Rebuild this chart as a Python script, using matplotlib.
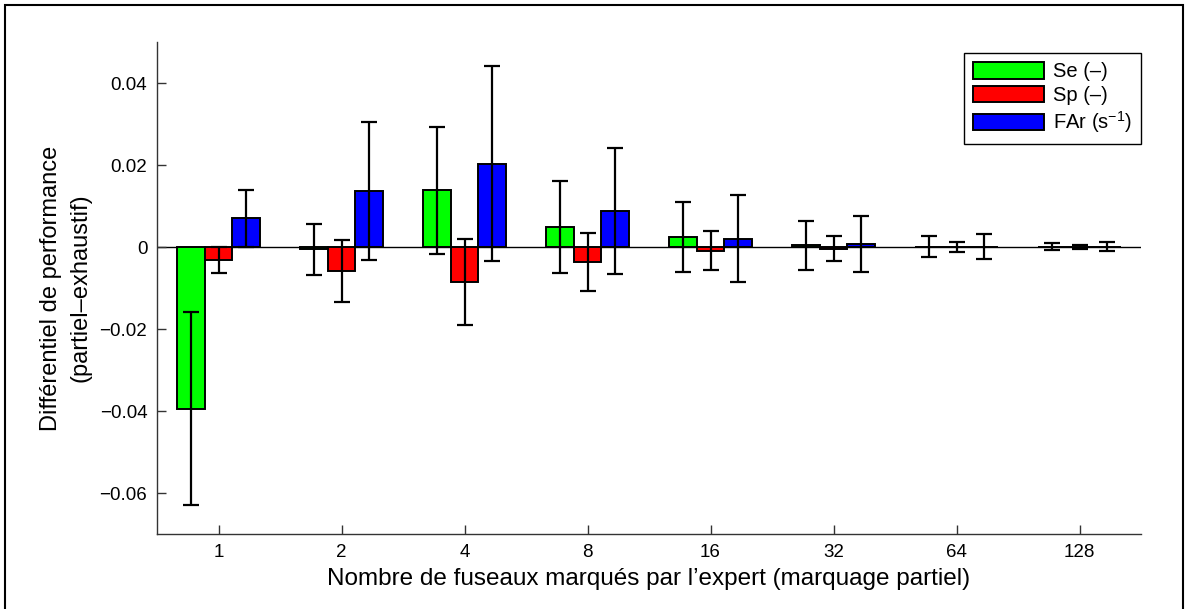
import numpy as np
import matplotlib.pyplot as plt
from matplotlib.patches import Rectangle

# Données
categories = ['1', '2', '4', '8', '16', '32', '64', '128']
se = [-0.0394, -0.0006, 0.0138, 0.0049, 0.0024, 0.0004, 0.0001, 0.0001]
se_err = [0.0235, 0.0062, 0.0155, 0.0112, 0.0085, 0.0059, 0.0025, 0.0009]
sp = [-0.0032, -0.0058, -0.0085, -0.0037, -0.0009, -0.0004, 0.0000, 0.0000]
sp_err = [0.0031, 0.0075, 0.0105, 0.0070, 0.0048, 0.0031, 0.0013, 0.0004]
far = [0.0070, 0.0137, 0.0203, 0.0088, 0.0020, 0.0007, 0.0001, 0.0001]
far_err = [0.0070, 0.0168, 0.0238, 0.0154, 0.0106, 0.0069, 0.0031, 0.0010]
y_ticks = [-0.06, -0.04, -0.02, 0, 0.02, 0.04]
y_ticklabels = ['\u22120.06', '\u22120.04', '\u22120.02', '0', '0.02', '0.04']

plt.rcParams['font.family'] = ['Liberation Sans', 'DejaVu Sans']
plt.rcParams['mathtext.fontset'] = 'custom'
plt.rcParams['mathtext.rm'] = 'Liberation Sans'
plt.rcParams['mathtext.it'] = 'Liberation Sans:italic'

fig = plt.figure(figsize=(11.88, 6.09), dpi=100)
ax = fig.add_axes([157 / 1188, 1 - 534 / 609, 984 / 1188, 492 / 609])

x = np.arange(1, len(categories) + 1)
w = 0.227
err_kw = dict(ecolor='black', elinewidth=1.6, capsize=5.5, capthick=1.6)

ax.axhline(0, color='black', lw=1.0, zorder=1)
ax.bar(x - w, se, w, yerr=se_err, color='#00ff00', edgecolor='black',
       linewidth=1.4, error_kw=err_kw, label='Se (\u2013)', zorder=2)
ax.bar(x, sp, w, yerr=sp_err, color='#ff0000', edgecolor='black',
       linewidth=1.4, error_kw=err_kw, label='Sp (\u2013)', zorder=2)
ax.bar(x + w, far, w, yerr=far_err, color='#0000ff', edgecolor='black',
       linewidth=1.4, error_kw=err_kw, label='FAr (s$^{-1}$)', zorder=2)

ax.set_xlim(0.5, 8.5)
ax.set_ylim(-0.07, 0.05)
ax.set_xticks(x)
ax.set_xticklabels(categories)
ax.set_yticks(y_ticks)
ax.set_yticklabels(y_ticklabels)

ax.spines['top'].set_visible(False)
ax.spines['right'].set_visible(False)
for s in ['left', 'bottom']:
    ax.spines[s].set_linewidth(1.0)
    ax.spines[s].set_color('#333333')
ax.tick_params(direction='in', length=6.5, width=1.0, color='#333333',
               labelsize=13.5, pad=7)

ax.set_xlabel('Nombre de fuseaux marqués par l\u2019expert (marquage partiel)',
              fontsize=17.5, labelpad=5)
ax.set_ylabel('Différentiel de performance\n(partiel\u2013exhaustif)',
              fontsize=17, labelpad=6, linespacing=1.45)

leg = ax.legend(loc='upper right', bbox_to_anchor=(1.0, 0.978),
                borderaxespad=0, fontsize=14.5, handlelength=3.5,
                handleheight=0.9, handletextpad=0.45, labelspacing=0.22,
                borderpad=0.45, fancybox=False, framealpha=1)
leg.get_frame().set_edgecolor('black')
leg.get_frame().set_linewidth(1.0)

# Cadre autour de la figure
fig.patches.append(Rectangle((5 / 1188, -0.02), 1178 / 1188, 1.02 - 5 / 609,
                             transform=fig.transFigure, fill=False,
                             edgecolor='black', linewidth=1.5))

fig.savefig('out.png', dpi=100)
